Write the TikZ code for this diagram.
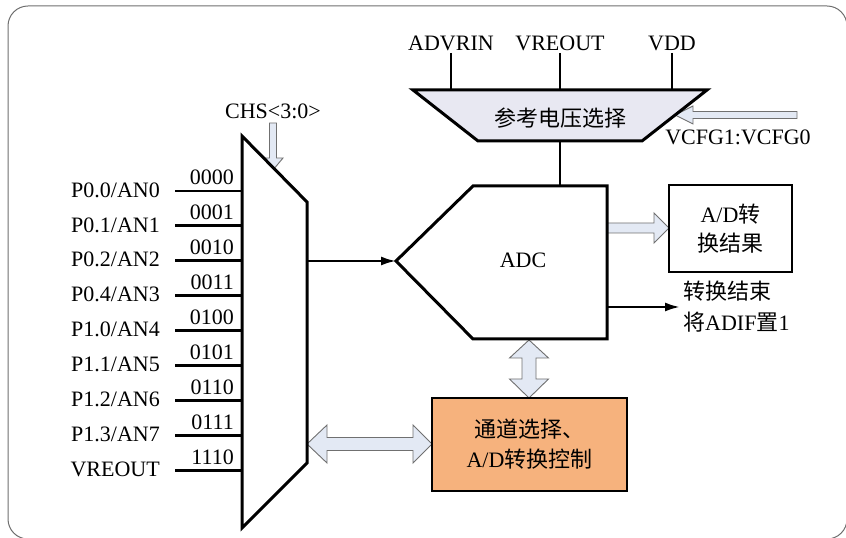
\documentclass[tikz,border=0pt]{standalone}
\usepackage{fontspec}
\setmainfont{Liberation Serif}
\newfontfamily\cjk{Noto Sans CJK SC}
\usepackage{tikz}
\usetikzlibrary{arrows.meta}
\definecolor{framegray}{HTML}{6E6E6E}
\definecolor{vrefbg}{HTML}{E8E8F2}
\definecolor{arrowbg}{HTML}{E3E9F4}
\definecolor{arrowline}{HTML}{707070}
\definecolor{ctrlbg}{HTML}{F6B27D}
\tikzset{
  wire/.style={line width=2.8pt,black},
  blk/.style={line width=3pt,black,line join=miter},
  sig/.style={-{Latex[length=15pt,width=9pt]},line width=2.4pt},
  fat/.style={draw=arrowline,line width=0.9pt,fill=arrowbg,line join=miter},
  lbl/.style={font=\fontsize{22}{26}\selectfont,inner sep=1pt},
  box/.style={draw,line width=2.8pt,align=center,inner sep=0pt}
}
\begin{document}
\begin{tikzpicture}[x=1pt,y=1pt]
\useasboundingbox (0,0) rectangle (846,538);
\begin{scope}
\clip (0,0) rectangle (846,538);
\draw[framegray,line width=1pt,rounded corners=20pt] (8,-1) rectangle (847,532);
\end{scope}

% hollow arrows first, the blocks cover their ends
\draw[fat] (797,426.5) -- (693,426.5) -- (693,432) -- (675,423) -- (693,414) -- (693,419.5) -- (797,419.5) -- cycle;
\draw[fat] (269.5,415) -- (269.5,380) -- (263,380) -- (273,368) -- (283,380) -- (276.5,380) -- (276.5,415) -- cycle;
\draw[fat] (600,315) -- (654,315) -- (654,325) -- (669,310) -- (654,295) -- (654,305) -- (600,305) -- cycle;
\draw[fat] (529,198) -- (548.5,180) -- (536,180) -- (536,159) -- (548.5,159) -- (529,140) -- (509.5,159) -- (522,159) -- (522,180) -- (509.5,180) -- cycle;
\draw[fat] (307,94) -- (327,113) -- (327,100.5) -- (413,100.5) -- (413,113) -- (432,94) -- (413,75) -- (413,87.5) -- (327,87.5) -- (327,75) -- cycle;

% reference voltage selector
\draw[blk,fill=vrefbg] (413,448) -- (707,448) -- (642,397) -- (478,397) -- cycle;
\node[lbl] (vref) at (560,420) {\cjk 参考电压选择};
\foreach \x/\name in {451/ADVRIN,560/VREOUT,672/VDD}{
  \coordinate (pin\name) at (\x,485);
  \draw[wire] (pin\name) -- (\x,448);
  \node[lbl,above=1pt] (lab\name) at (pin\name) {\name};
}
\node[lbl] (vcfg) at (738,401) {VCFG1:VCFG0};
\node[lbl] (chs) at (273,427) {CHS<3:0>};

% ADC
\coordinate (vrefout) at (560,397);
\coordinate (adctop) at (560,352);
\draw[wire] (vrefout) -- (adctop);
\draw[blk,fill=white] (473,352) -- (607,352) -- (607,199) -- (473,199) -- (396,277) -- cycle;
\node[lbl] (adc) at (523,278) {ADC};

% multiplexer
\draw[blk,fill=white] (242,402) -- (307,336) -- (307,75) -- (242,10) -- cycle;
\foreach \lab/\code [count=\i from 0] in {{P0.0/AN0}/0000,{P0.1/AN1}/0001,{P0.2/AN2}/0010,{P0.4/AN3}/0011,{P1.0/AN4}/0100,{P1.1/AN5}/0101,{P1.2/AN6}/0110,{P1.3/AN7}/0111,VREOUT/1110}{
  \pgfmathsetmacro\yy{347-34.9*\i}
  \coordinate (in\i) at (175,\yy);
  \coordinate (mx\i) at (242,\yy);
  \draw[wire] (in\i) -- (mx\i);
  \node[lbl,anchor=east] (lab\i) at (161,\yy+1) {\lab};
  \node[lbl,anchor=base east] (code\i) at (235,\yy+6) {\code};
}
\coordinate (muxout) at (307,277);
\coordinate (adcin) at (396,277);
\draw[sig] (muxout) -- (adcin);

% result and control
\node[box,minimum width=123pt,minimum height=87pt,font=\fontsize{22}{29}\selectfont] (res) at (730.5,309.5) {A/D{\cjk 转}\\{\cjk 换结果}};
\coordinate (eocfrom) at (607,231);
\coordinate (eocto) at (680,231);
\draw[sig] (eocfrom) -- (eocto);
\node[lbl,anchor=west,align=left,font=\fontsize{22}{31}\selectfont] (eoc) at (682,231) {{\cjk 转换结束}\\{\cjk 将}ADIF{\cjk 置}1};
\node[box,fill=ctrlbg,minimum width=195pt,minimum height=93pt,font=\fontsize{22}{30}\selectfont] (ctrl) at (529.5,93.5) {{\cjk 通道选择、}\\A/D{\cjk 转换控制}};
\end{tikzpicture}
\end{document}
